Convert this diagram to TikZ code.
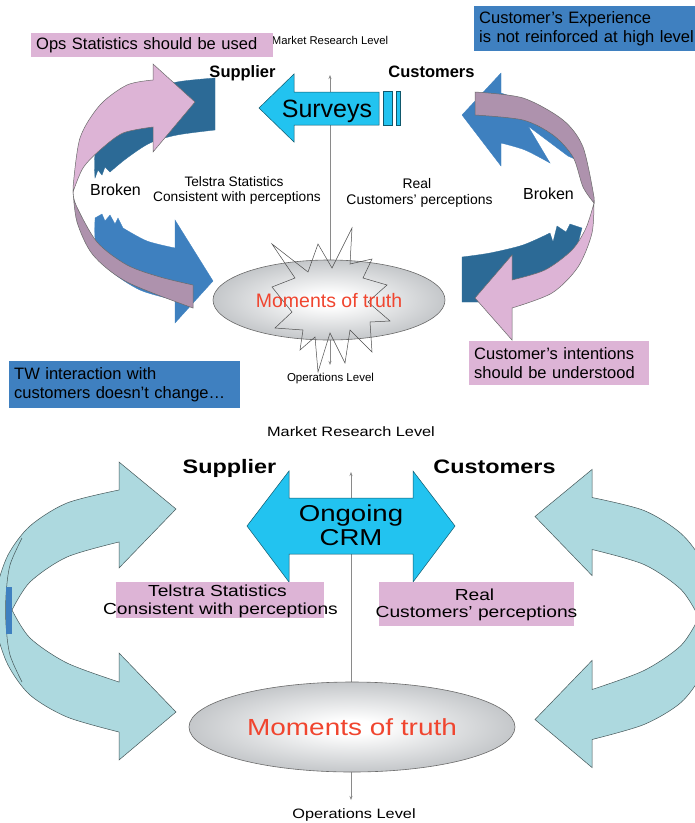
\documentclass[tikz,border=0pt]{standalone}
\usepackage{fontspec}
\setmainfont{Liberation Sans}
\usepackage{graphicx}
\usetikzlibrary{shapes.geometric,arrows.meta}

\definecolor{pinkF}{HTML}{DDB4D6}
\definecolor{mauveF}{HTML}{AE92AD}
\definecolor{dblueF}{HTML}{2C6A96}
\definecolor{mblueF}{HTML}{3E80BF}
\definecolor{cyanF}{HTML}{22C3F0}
\definecolor{lblueF}{HTML}{ADD9DF}
\definecolor{boxblue}{HTML}{3F80C0}
\definecolor{motred}{HTML}{F0452F}
\definecolor{motgray}{HTML}{ABAFB3}
\definecolor{motgrayD}{HTML}{A0A4A8}
\definecolor{edgegray}{HTML}{6A6A6A}
\definecolor{axisgray}{HTML}{8A8A8A}

\pgfdeclareradialshading{motshade}{\pgfpointorigin}{color(0bp)=(white); color(4bp)=(white); color(34bp)=(motgray); color(50bp)=(motgrayD)}

\newcommand{\fsz}[2]{\fontsize{#1}{#2}\selectfont}
\newcommand{\xs}[1]{\scalebox{1.2}[1]{#1}}

\tikzset{
  txt/.style={inner sep=0pt, anchor=base},
  axisline/.style={draw=axisgray, line width=0.6pt, >={Stealth[length=4pt,width=3pt]}, <->},
  shapeedge/.style={draw=edgegray, line width=0.5pt},
  pinkshape/.style={fill=pinkF, shapeedge},
  mauveshape/.style={fill=mauveF, shapeedge},
  dblueshape/.style={fill=dblueF, draw=dblueF, line width=0.3pt},
  mblueshape/.style={fill=mblueF, draw=mblueF, line width=0.3pt},
  cyanshape/.style={fill=cyanF, draw=cyanF!45!black, line width=0.5pt},
  lblueshape/.style={fill=lblueF, draw=lblueF!40!black, line width=0.5pt},
  textbox/.style={rectangle, anchor=north west, inner xsep=5pt, inner ysep=0pt, align=left},
  motell/.style={ellipse, draw=edgegray, line width=0.6pt, shade, shading=motshade, inner sep=0pt},
  starline/.style={draw=black!70, line width=0.5pt},
  labelrect/.style={rectangle, anchor=north west, inner sep=0pt, fill=pinkF},
}

\newcommand{\lbshape}{%
  (119,462) -- (176,509) -- (119,568) -- (119,542)
  -- plot[smooth] coordinates {(119,542) (67,557) (30,582) (12,610)}
  -- plot[smooth] coordinates {(12,610) (30,638) (67,663) (119,682)}
  -- (119,653) -- (176,712) -- (119,760) -- (119,732)
  -- plot[smooth] coordinates {(119,732) (67,717) (30,695) (8,665) (-4,630) (-6,610) (-4,590) (8,555) (30,526) (67,503) (119,490)}
  -- cycle}

\begin{document}
\begin{tikzpicture}[x=1pt,y=-1pt]
\useasboundingbox (0,0) rectangle (695,823);
\clip (0,0) rectangle (695,823);
\fill[white] (0,0) rectangle (695,823);

% ================= TOP HALF =================
\coordinate (axTt) at (330,75);
\coordinate (axTb) at (330,365);
\draw[axisline] (axTb) -- (axTt);

\node[txt, font=\fsz{11.3}{13}] (mrT) at (330,44) {Market Research Level};

% left arrows
\filldraw[dblueshape] (215,78) -- plot[smooth] coordinates {(215,78) (177,82) (143,92) (120,108) (103,132) (95,155) (95,178)}
  -- (98,170) -- (102,175) -- (105,167) -- (110,172)
  -- plot[smooth] coordinates {(110,172) (127,158) (150,143) (177,135) (215,130)} -- cycle;
\filldraw[mblueshape] (95,218) -- (102,214) -- (105,221) -- (110,215) -- (115,224) -- (118,218) -- (123,228)
  -- plot[smooth] coordinates {(123,228) (147,241) (175,248)}
  -- (175,220) -- (213,281) -- (175,323) -- (175,300)
  -- plot[smooth] coordinates {(175,300) (140,290) (110,270) (96,245) (95,220)} -- cycle;
\filldraw[mauveshape] (73,190) -- plot[smooth] coordinates {(73,190) (77,222) (93,255) (127,282) (193,308)}
  -- (193,285) -- plot[smooth] coordinates {(193,285) (160,277) (127,265) (97,242) (76,205) (73,190)} -- cycle;
\filldraw[pinkshape] (73,192) -- plot[smooth] coordinates {(73,192) (83,168) (100,150) (123,133) (153,127)}
  -- (153,152) -- (195,102) -- (153,64) -- (153,80)
  -- plot[smooth] coordinates {(153,80) (127,85) (100,105) (80,138) (73,188)} -- cycle;

% right arrows
\filldraw[mblueshape] (462,115) -- (501,73) -- (501,93)
  -- plot[smooth] coordinates {(501,93) (530,104) (555,120) (572,145)}
  -- (577,160) -- (568,156) -- (528,126) -- (550,163)
  -- plot[smooth] coordinates {(550,163) (525,150) (501,143)} -- (501,166) -- cycle;
\filldraw[dblueshape] (462,257) -- plot[smooth] coordinates {(462,257) (490,253) (523,245) (550,233)}
  -- (553,242) -- (557,226) -- (566,232) -- (570,224) -- (582,228) -- (575,255) -- (555,280) -- (520,295) -- (478,302) -- (462,302) -- cycle;
\filldraw[mauveshape] (475,92) -- plot[smooth] coordinates {(475,92) (523,98) (563,120) (583,147) (594,197)}
  -- plot[smooth] coordinates {(594,203) (583,187) (573,157) (553,135) (523,120) (475,115)} -- cycle;
\filldraw[pinkshape] (594,200) -- plot[smooth] coordinates {(594,200) (592,233) (578,267) (552,293) (512,308)}
  -- (512,340) -- (475,298) -- (512,255) -- (512,280)
  -- plot[smooth] coordinates {(512,280) (545,270) (572,250) (586,228) (594,203)} -- cycle;

% surveys arrow
\filldraw[cyanshape] (259,108) -- (294,74) -- (294,92) -- (379,92) -- (379,125) -- (294,125) -- (294,142) -- cycle;
\filldraw[cyanshape] (383,91) rectangle (392,125);
\filldraw[cyanshape] (396,91) rectangle (400,125);
\node[txt, font=\fsz{25}{28}] (surveys) at (327,117) {Surveys};

% moments of truth (top)
\node[motell, minimum width=232pt, minimum height=80pt] (motEllT) at (329,300) {};
\draw[starline] (272,244) -- (308,272) -- (318,244) -- (332,268) -- (352,228) -- (350,264) -- (372,259) -- (363,278)
  -- (387,285) -- (368,302) -- (390,321) -- (370,322) -- (372,352) -- (350,330) -- (345,363) -- (330,333)
  -- (318,372) -- (315,337) -- (300,350) -- (303,330) -- (275,328) -- (292,312) -- (272,287) -- (295,278) -- cycle;
\node[txt, font=\fsz{19.5}{22}, text=motred] (motT) at (329,307) {Moments of truth};
\node[txt, font=\fsz{11.5}{13}] (opT) at (330.5,381) {Operations Level};

% labels top
\node[txt, font=\fsz{16.5}{19}\bfseries] (supT) at (242.5,77) {Supplier};
\node[txt, font=\fsz{16.5}{19}\bfseries] (cusT) at (431.5,77) {Customers};
\node[txt, font=\fsz{16}{19}] (brokL) at (115.5,195) {Broken};
\node[txt, font=\fsz{16}{19}] (brokR) at (548.5,199) {Broken};
\node[txt, font=\fsz{13.7}{16}] (telT1) at (234,186) {Telstra Statistics};
\node[txt, font=\fsz{13.7}{16}] (telT2) at (237,201) {Consistent with perceptions};
\node[txt, font=\fsz{13.9}{16}] (realT1) at (417,188) {Real};
\node[txt, font=\fsz{13.9}{16}] (realT2) at (419.5,204) {Customers’ perceptions};

% boxes top
\node[textbox, fill=pinkF, text width=232pt, minimum height=24pt, font=\fsz{16.5}{19}] (opsBox) at (31,33) {Ops Statistics should be used};
\node[textbox, fill=boxblue, text width=235pt, minimum height=45pt, font=\fsz{16.5}{19}] (expBox) at (474,6) {Customer’s Experience\\is not reinforced at high level};
\node[textbox, fill=pinkF, text width=170pt, minimum height=44pt, font=\fsz{16.5}{19}] (intBox) at (469,341) {Customer’s intentions\\should be understood};
\node[textbox, fill=boxblue, text width=221pt, minimum height=47pt, font=\fsz{16.5}{18.5}] (twBox) at (9,361) {TW interaction with\\customers doesn’t change…};

% ================= BOTTOM HALF =================
\coordinate (axBt) at (351,472);
\coordinate (axBb) at (351,800);
\draw[axisline] (axBb) -- (axBt);

\filldraw[lblueshape] \lbshape;
\draw[lblueF!40!black, line width=0.5pt] plot[smooth] coordinates {(22,538) (10,565) (6,595) (6,625) (10,655) (22,682)};
\fill[boxblue] (6,587) rectangle (12,634);
\begin{scope}[shift={(711,7.5)}, xscale=-1]
  \filldraw[lblueshape] \lbshape;
\end{scope}

\filldraw[cyanshape] (247,526) -- (289,471) -- (289,498) -- (413,498) -- (413,471) -- (455,526) -- (413,582) -- (413,554) -- (289,554) -- (289,582) -- cycle;
\node[txt, font=\fsz{23}{26}] (ongoing) at (351,521.5) {\xs{Ongoing}};
\node[txt, font=\fsz{23}{26}] (crm) at (351,545) {\xs{CRM}};

\node[labelrect, minimum width=208pt, minimum height=36pt] (telBox) at (116,582) {};
\node[labelrect, minimum width=195pt, minimum height=44pt] (realBox) at (379,582) {};
\node[txt, font=\fsz{16}{18}] (telB1) at (217.5,596) {\xs{Telstra Statistics}};
\node[txt, font=\fsz{16}{18}] (telB2) at (220.5,614) {\xs{Consistent with perceptions}};
\node[txt, font=\fsz{16}{18}] (realB1) at (474.5,600) {\xs{Real}};
\node[txt, font=\fsz{16}{18}] (realB2) at (476.5,617) {\xs{Customers’ perceptions}};

\node[motell, minimum width=326pt, minimum height=90pt] (motEllB) at (352,727) {};
\node[txt, font=\fsz{23.3}{26}, text=motred] (motB) at (352,735) {\xs{Moments of truth}};

\node[txt, font=\fsz{13.6}{16}] (mrB) at (351,436) {\xs{Market Research Level}};
\node[txt, font=\fsz{13.6}{16}] (opB) at (354,818) {\xs{Operations Level}};
\node[txt, font=\fsz{19.5}{22}\bfseries] (supB) at (229.5,473) {\xs{Supplier}};
\node[txt, font=\fsz{19.5}{22}\bfseries] (cusB) at (494.5,473) {\xs{Customers}};
\end{tikzpicture}
\end{document}
